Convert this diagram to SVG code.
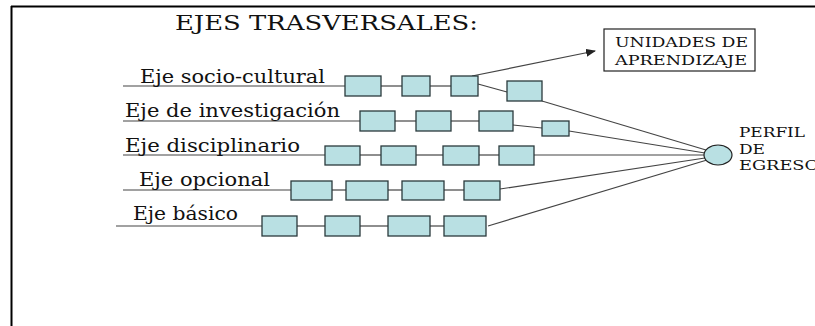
<svg xmlns="http://www.w3.org/2000/svg" width="815" height="326" viewBox="0 0 815 326">
<defs>
<style>
.box{fill:#b9e0e3;stroke:#2a3a3c;stroke-width:1.3}
.ln{stroke:#444;stroke-width:1.2;fill:none}
.lbl{font-family:"DejaVu Serif","Liberation Serif",serif;font-size:18px;fill:#111}
.sm{font-family:"DejaVu Serif","Liberation Serif",serif;font-size:13.5px;fill:#111}
.ttl{font-family:"DejaVu Serif","Liberation Serif",serif;font-size:21px;fill:#111}
</style>
<marker id="ah" markerWidth="10" markerHeight="8" refX="9" refY="4" orient="auto" markerUnits="userSpaceOnUse">
<path d="M0,0 L10,4 L0,8 Z" fill="#222"/>
</marker>
</defs>
<rect width="815" height="326" fill="#fff"/>
<g id="frame">
<line x1="11" y1="6.5" x2="815" y2="6.5" stroke="#000" stroke-width="2"/>
<line x1="11.5" y1="6" x2="11.5" y2="326" stroke="#000" stroke-width="2"/>
</g>
<g id="title"><text class="ttl" x="175" y="30" textLength="303" lengthAdjust="spacingAndGlyphs">EJES TRASVERSALES:</text></g>

<g id="connectors">
<line class="ln" x1="123" y1="86" x2="345" y2="86"/>
<line class="ln" x1="381" y1="86" x2="402" y2="86"/>
<line class="ln" x1="430" y1="86" x2="451" y2="86"/>
<line class="ln" x1="478" y1="84" x2="507" y2="92"/>
<line class="ln" x1="542" y1="101" x2="706" y2="150"/>
<line class="ln" x1="472" y1="76" x2="595" y2="51" marker-end="url(#ah)"/>

<line class="ln" x1="123" y1="121" x2="360" y2="121"/>
<line class="ln" x1="395" y1="121" x2="416" y2="121"/>
<line class="ln" x1="451" y1="121" x2="479" y2="121"/>
<line class="ln" x1="513" y1="125" x2="542" y2="128"/>
<line class="ln" x1="569" y1="131" x2="705" y2="153"/>

<line class="ln" x1="123" y1="155" x2="325" y2="155"/>
<line class="ln" x1="360" y1="155" x2="381" y2="155"/>
<line class="ln" x1="416" y1="155" x2="443" y2="155"/>
<line class="ln" x1="479" y1="155" x2="499" y2="155"/>
<line class="ln" x1="534" y1="155" x2="704" y2="155"/>

<line class="ln" x1="123" y1="190" x2="291" y2="190"/>
<line class="ln" x1="332" y1="190" x2="346" y2="190"/>
<line class="ln" x1="388" y1="190" x2="402" y2="190"/>
<line class="ln" x1="444" y1="190" x2="464" y2="190"/>
<line class="ln" x1="500" y1="189" x2="705" y2="158"/>

<line class="ln" x1="116" y1="226" x2="262" y2="226"/>
<line class="ln" x1="297" y1="226" x2="325" y2="226"/>
<line class="ln" x1="360" y1="226" x2="388" y2="226"/>
<line class="ln" x1="430" y1="226" x2="444" y2="226"/>
<line class="ln" x1="488" y1="226" x2="707" y2="160"/>
</g>

<g id="axis-socio-cultural">
<text class="lbl" x="140" y="83" textLength="185" lengthAdjust="spacingAndGlyphs">Eje socio-cultural</text>
<rect class="box" x="345" y="76" width="36" height="20"/>
<rect class="box" x="402" y="76" width="28" height="20"/>
<rect class="box" x="451" y="76" width="27" height="20"/>
<rect class="box" x="507" y="81" width="35" height="20"/>
</g>
<g id="axis-investigacion">
<text class="lbl" x="125" y="117" textLength="215" lengthAdjust="spacingAndGlyphs">Eje de investigación</text>
<rect class="box" x="360" y="111" width="35" height="20"/>
<rect class="box" x="416" y="111" width="35" height="20"/>
<rect class="box" x="479" y="111" width="34" height="20"/>
<rect class="box" x="542" y="121" width="27" height="15"/>
</g>
<g id="axis-disciplinario">
<text class="lbl" x="125" y="152" textLength="175" lengthAdjust="spacingAndGlyphs">Eje disciplinario</text>
<rect class="box" x="325" y="146" width="35" height="19"/>
<rect class="box" x="381" y="146" width="35" height="19"/>
<rect class="box" x="443" y="146" width="36" height="19"/>
<rect class="box" x="499" y="146" width="35" height="19"/>
</g>
<g id="axis-opcional">
<text class="lbl" x="139" y="186" textLength="131" lengthAdjust="spacingAndGlyphs">Eje opcional</text>
<rect class="box" x="291" y="181" width="41" height="19"/>
<rect class="box" x="346" y="181" width="42" height="19"/>
<rect class="box" x="402" y="181" width="42" height="19"/>
<rect class="box" x="464" y="181" width="36" height="19"/>
</g>
<g id="axis-basico">
<text class="lbl" x="133" y="220" textLength="105" lengthAdjust="spacingAndGlyphs">Eje básico</text>
<rect class="box" x="262" y="216" width="35" height="20"/>
<rect class="box" x="325" y="216" width="35" height="20"/>
<rect class="box" x="388" y="216" width="42" height="20"/>
<rect class="box" x="444" y="216" width="42" height="20"/>
</g>

<g id="unidades">
<rect x="604" y="29" width="151" height="42" fill="#fff" stroke="#222" stroke-width="1.2"/>
<text class="sm" x="615" y="47" textLength="133" lengthAdjust="spacingAndGlyphs">UNIDADES DE</text>
<text class="sm" x="615" y="65" textLength="132" lengthAdjust="spacingAndGlyphs">APRENDIZAJE</text>
</g>
<g id="perfil">
<ellipse cx="718" cy="155" rx="14" ry="10" fill="#b9e0e3" stroke="#222" stroke-width="1.2"/>
<text class="sm" x="739" y="137" textLength="66" lengthAdjust="spacingAndGlyphs">PERFIL</text>
<text class="sm" x="739" y="154" textLength="26" lengthAdjust="spacingAndGlyphs">DE</text>
<text class="sm" x="739" y="170" textLength="80" lengthAdjust="spacingAndGlyphs">EGRESO</text>
</g>
</svg>
